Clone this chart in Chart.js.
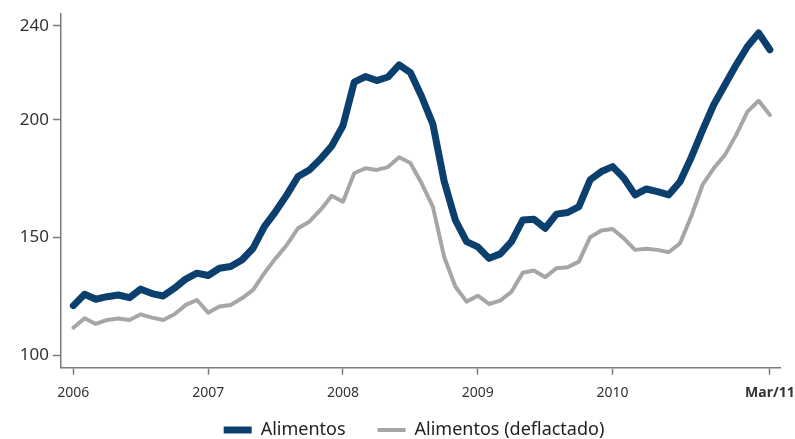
<!DOCTYPE html>
<html><head><meta charset="utf-8">
<script src="https://cdn.jsdelivr.net/npm/chart.js@4.4.1/dist/chart.umd.min.js"></script>
<style>html,body{margin:0;padding:0;background:#fff;}#wrap{width:795px;height:439px;}</style>
</head><body><div id="wrap"><canvas id="c" width="795" height="439"></canvas></div>
<script>
const months = [
 '2006-01','2006-02','2006-03','2006-04','2006-05','2006-06','2006-07','2006-08','2006-09','2006-10','2006-11','2006-12',
 '2007-01','2007-02','2007-03','2007-04','2007-05','2007-06','2007-07','2007-08','2007-09','2007-10','2007-11','2007-12',
 '2008-01','2008-02','2008-03','2008-04','2008-05','2008-06','2008-07','2008-08','2008-09','2008-10','2008-11','2008-12',
 '2009-01','2009-02','2009-03','2009-04','2009-05','2009-06','2009-07','2009-08','2009-09','2009-10','2009-11','2009-12',
 '2010-01','2010-02','2010-03','2010-04','2010-05','2010-06','2010-07','2010-08','2010-09','2010-10','2010-11','2010-12',
 '2011-01','2011-02','2011-03'];
const alimentos = [
 121.0,125.8,123.7,124.8,125.5,124.4,128.0,126.1,125.1,128.4,132.3,134.8,
 133.8,136.9,137.6,140.4,145.4,154.6,161.0,168.1,175.9,178.7,183.3,188.9,
 197.5,216.0,218.4,216.7,218.2,223.4,220.1,209.9,198.2,174.0,157.4,148.2,
 146.0,141.1,143.0,148.2,157.4,157.7,153.9,159.9,160.6,163.1,174.5,178.0,
 180.1,175.2,168.1,170.6,169.5,168.1,173.7,184.0,195.5,206.4,214.9,223.4,
 231.2,236.9,229.8];
const deflactado = [
 111.6,115.6,113.2,114.9,115.5,114.9,117.3,115.9,114.9,117.3,121.3,123.4,
 118.0,120.6,121.3,124.1,127.7,134.8,141.1,146.8,153.9,156.7,161.7,167.7,
 165.2,177.3,179.4,178.7,179.9,184.1,181.6,173.0,163.1,141.8,129.1,122.7,
 125.2,121.7,123.1,126.9,135.0,135.9,133.1,136.9,137.3,139.7,150.1,152.9,
 153.6,149.6,144.7,145.2,144.7,143.7,147.5,159.0,172.3,179.4,185.1,193.6,
 203.5,208.1,202.1];
const seriesNames = ['Alimentos','Alimentos (deflactado)'];
const xTickMonths = ['2006-01','2007-01','2008-01','2009-01','2010-01','2011-03'];
const xTickLabels = ['2006','2007','2008','2009','2010','Mar/11'];
const yTicks = [100,150,200,240];

const FONT = "'Noto Sans', sans-serif";
const AXIS = '#7a7a7a';
const LEGEND_H = 50;

const legendHeightPlugin = {
  id: 'legendHeight',
  beforeLayout(chart) {
    const lg = chart.legend;
    if (lg && !lg._fixedH) {
      const orig = lg.fit;
      lg.fit = function () { orig.call(this); this.height = LEGEND_H; };
      lg._fixedH = true;
    }
  }
};
const noLabelClip = s => { s._computeLabelArea = () => undefined; };

const toPts = arr => arr.map((v, i) => ({x: i, y: v}));

new Chart(document.getElementById('c'), {
  type: 'line',
  data: {
    datasets: [
      {label: seriesNames[0], data: toPts(alimentos), borderColor: '#0b3f6d', backgroundColor: '#0b3f6d',
       borderWidth: 7, pointRadius: 0, tension: 0, borderJoinStyle: 'round', borderCapStyle: 'round'},
      {label: seriesNames[1], data: toPts(deflactado), borderColor: '#a6a6a6', backgroundColor: '#a6a6a6',
       borderWidth: 4, pointRadius: 0, tension: 0, borderJoinStyle: 'round', borderCapStyle: 'round'}
    ]
  },
  options: {
    responsive: false,
    animation: false,
    devicePixelRatio: 1,
    layout: {padding: {left: 48, right: 15, top: 14, bottom: 0}},
    plugins: {
      legend: {
        position: 'bottom',
        labels: {usePointStyle: true, pointStyle: 'line', pointStyleWidth: 28, padding: 32,
                 color: '#222', font: {family: FONT, size: 18}}
      },
      tooltip: {enabled: false}
    },
    scales: {
      x: {
        type: 'linear', min: -1.1, max: 62.9,
        afterBuildTicks: s => { s.ticks = xTickMonths.map(m => ({value: months.indexOf(m)})); },
        afterFit: s => { s.height = 21.3; s.paddingLeft = 0; s.paddingRight = 0; noLabelClip(s); },
        ticks: {
          autoSkip: false, maxRotation: 0, padding: 10,
          callback: (v, i) => xTickLabels[i],
          color: '#333',
          font: ctx => ({family: FONT, size: 14, weight: ctx.index === xTickLabels.length - 1 ? 'bold' : 'normal'})
        },
        grid: {display: true, drawOnChartArea: false, drawTicks: true, tickLength: 7, tickColor: AXIS, tickWidth: 1.5},
        border: {display: true, color: AXIS, width: 1.5}
      },
      y: {
        type: 'linear', min: 94.6, max: 245,
        afterBuildTicks: s => { s.ticks = yTicks.map(v => ({value: v})); },
        afterFit: s => { s.width = 13; s.paddingTop = 0; s.paddingBottom = 0; noLabelClip(s); },
        ticks: {padding: 4, color: '#333', font: {family: FONT, size: 17}, callback: v => String(v)},
        grid: {display: true, drawOnChartArea: false, drawTicks: true, tickLength: 8, tickColor: AXIS, tickWidth: 1.5},
        border: {display: true, color: AXIS, width: 1.5}
      }
    }
  },
  plugins: [legendHeightPlugin]
});
</script></body></html>
